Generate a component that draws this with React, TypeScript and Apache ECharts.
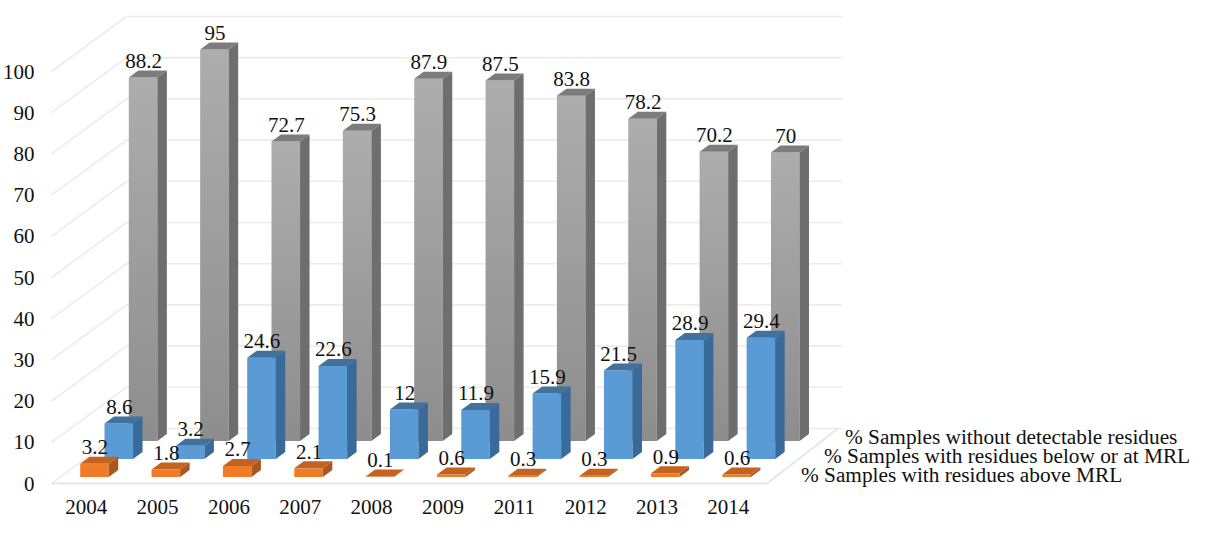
import React, { useEffect, useRef } from "react";
import * as echarts from "echarts";

const years = ["2004", "2005", "2006", "2007", "2008", "2009", "2011", "2012", "2013", "2014"];
const withoutResidues = [88.2, 95, 72.7, 75.3, 87.9, 87.5, 83.8, 78.2, 70.2, 70];
const belowMrl = [8.6, 3.2, 24.6, 22.6, 12, 11.9, 15.9, 21.5, 28.9, 29.4];
const aboveMrl = [3.2, 1.8, 2.7, 2.1, 0.1, 0.6, 0.3, 0.3, 0.9, 0.6];
const gridTicks = [0, 10, 20, 30, 40, 50, 60, 70, 80, 90, 100];
const seriesNames = [
  "% Samples with residues above MRL",
  "% Samples with residues below or at MRL",
  "% Samples without detectable residues",
];

const FAMILY = '"Liberation Serif", "Times New Roman", serif';
const FONT = `21px ${FAMILY}`;
const NAME_FONT = `21.3px ${FAMILY}`;
const TEXT = "#111111";
const DEPTH_X = 75;
const DEPTH_Y = 55;

const wallRender = (params: any, api: any) => {
  const v = api.value(0);
  const cs = params.coordSys;
  const y = api.coord([0, v])[1];
  const x0 = cs.x + 1;
  const x1 = cs.x + cs.width + 3;
  const stroke = "#ececec";
  const lw = 1.6;
  const children: any[] = [
    {
      type: "polyline",
      shape: { points: [[x0, y], [x0 + DEPTH_X, y - DEPTH_Y], [x1 + DEPTH_X, y - DEPTH_Y]] },
      style: { stroke, lineWidth: lw, fill: "none" },
    },
  ];
  if (v === 0) {
    children.push({
      type: "polyline",
      shape: { points: [[x0, y], [x1, y], [x1 + DEPTH_X - 4, y - DEPTH_Y]] },
      style: { stroke: "#e6e6e6", lineWidth: 2, fill: "none" },
    });
  }
  return { type: "group", children };
};

const barRender = (row: number, colors: any) => (params: any, api: any) => {
  const idx = api.value(0);
  const v = api.value(1);
  const top = api.coord([idx, v]);
  const base = api.coord([idx, 0]);
  const slot = api.size([1, 0])[0];
  const w = slot * 0.4;
  const dx = 9.5;
  const dy = 7;
  const cx = top[0] + 8.3 + row * 24.3;
  const shift = 6.5 + row * 18;
  const l = cx - w / 2;
  const r = cx + w / 2;
  const t = top[1] - shift;
  const b = base[1] - shift;
  return {
    type: "group",
    children: [
      {
        type: "polygon",
        shape: { points: [[l, b], [r, b], [r, t], [l, t]] },
        style: {
          fill: new echarts.graphic.LinearGradient(0, 0, 0, 1, [
            { offset: 0, color: colors.frontTop },
            { offset: 1, color: colors.frontBottom },
          ]),
        },
      },
      {
        type: "polygon",
        shape: { points: [[r, b], [r + dx, b - dy], [r + dx, t - dy], [r, t]] },
        style: { fill: colors.side },
      },
      {
        type: "polygon",
        shape: { points: [[l, t], [r, t], [r + dx, t - dy], [l + dx, t - dy]] },
        style: { fill: colors.top },
      },
      {
        type: "text",
        style: {
          text: String(v),
          x: cx + 0.5,
          y: t - 16.5,
          align: "center",
          verticalAlign: "middle",
          font: FONT,
          fill: TEXT,
        },
      },
    ],
  };
};

const toPairs = (vals: number[]) => vals.map((v, i) => [i, v]);

export default function App() {
  const ref = useRef<HTMLDivElement>(null);
  useEffect(() => {
    document.body.style.margin = "0";
    const chart = echarts.init(ref.current!, undefined, { renderer: "svg" });
    chart.setOption({
      animation: false,
      backgroundColor: "#ffffff",
      grid: { left: 49, top: 71.5, width: 715, height: 412, containLabel: false },
      xAxis: {
        type: "category",
        data: years,
        axisLine: { show: false },
        axisTick: { show: false },
        axisLabel: { fontFamily: FAMILY, fontSize: 21, color: TEXT, margin: 13 },
      },
      yAxis: {
        type: "value",
        min: 0,
        max: 100,
        interval: 10,
        axisLine: { show: false },
        axisTick: { show: false },
        splitLine: { show: false },
        axisLabel: { fontFamily: FAMILY, fontSize: 21, color: TEXT, margin: 16, padding: [2, 0, 0, 0] },
      },
      series: [
        {
          type: "custom",
          name: "walls",
          silent: true,
          clip: false,
          coordinateSystem: "cartesian2d",
          encode: { y: 0 },
          data: gridTicks.map((v) => [v]),
          renderItem: wallRender,
          z: 1,
        },
        {
          type: "custom",
          name: seriesNames[2],
          clip: false,
          encode: { x: 0, y: 1 },
          data: toPairs(withoutResidues),
          renderItem: barRender(2, {
            frontTop: "#adadad",
            frontBottom: "#8d8d8d",
            side: "#6e6e6e",
            top: "#7c7c7c",
          }),
          z: 2,
        },
        {
          type: "custom",
          name: seriesNames[1],
          clip: false,
          encode: { x: 0, y: 1 },
          data: toPairs(belowMrl),
          renderItem: barRender(1, {
            frontTop: "#5b9bd5",
            frontBottom: "#5b9bd5",
            side: "#3a6a99",
            top: "#41719c",
          }),
          z: 3,
        },
        {
          type: "custom",
          name: seriesNames[0],
          clip: false,
          encode: { x: 0, y: 1 },
          data: toPairs(aboveMrl),
          renderItem: barRender(0, {
            frontTop: "#ee7d2e",
            frontBottom: "#f27a22",
            side: "#a9581f",
            top: "#c4621f",
          }),
          z: 4,
        },
      ],
      graphic: [
        { type: "text", x: 845, y: 437, style: { text: seriesNames[2], font: NAME_FONT, fill: TEXT, verticalAlign: "middle" } },
        { type: "text", x: 824, y: 456, style: { text: seriesNames[1], font: NAME_FONT, fill: TEXT, verticalAlign: "middle" } },
        { type: "text", x: 801, y: 475, style: { text: seriesNames[0], font: NAME_FONT, fill: TEXT, verticalAlign: "middle" } },
      ],
    });
    return () => chart.dispose();
  }, []);
  return <div ref={ref} style={{ width: 1213, height: 537 }} />;
}
